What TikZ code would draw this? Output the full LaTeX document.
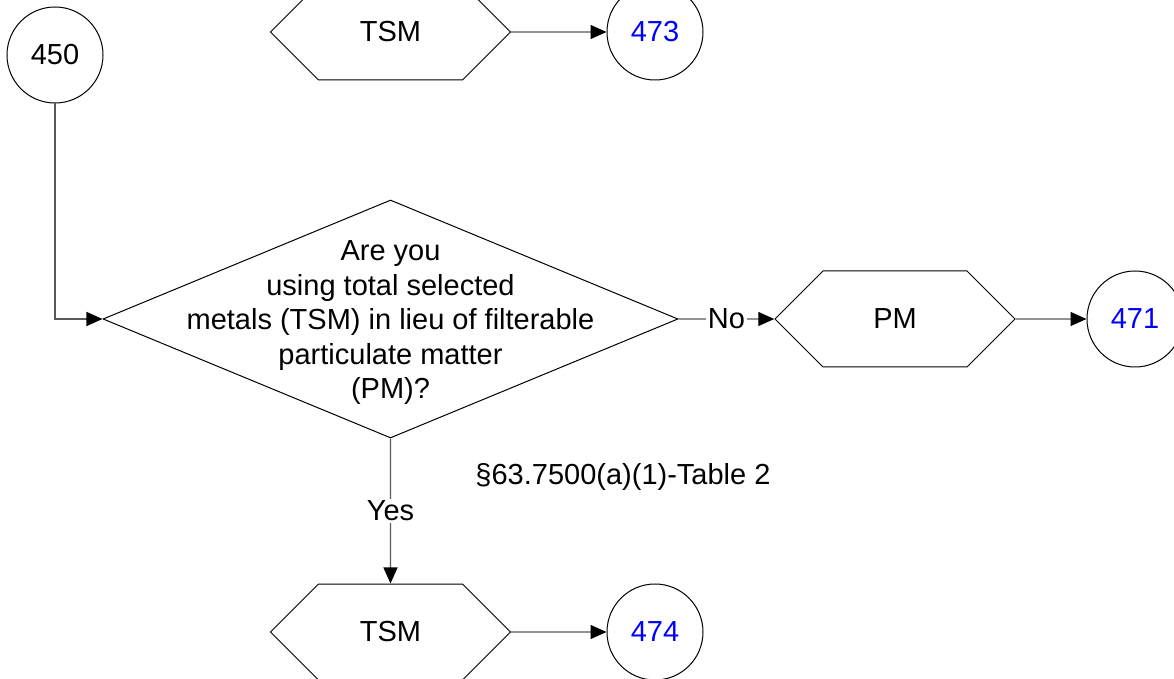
\documentclass[tikz,border=0pt]{standalone}
\usepackage{fontspec}
\setmainfont{Liberation Sans}
\usetikzlibrary{arrows.meta,shapes.geometric,shapes.symbols}
\definecolor{linkblue}{RGB}{0,0,255}
\tikzset{
  conn/.style={-{Triangle[length=8pt,width=7pt,color=black]}, draw=black!65, line width=0.6pt},
  refcircle/.style={circle, draw, line width=0.5pt, minimum size=48pt, inner sep=0pt},
  hexbox/.style={signal, signal to=east and west, signal pointer angle=90, draw,
    line width=0.5pt, minimum width=120pt, minimum height=48pt, inner sep=0pt},
  decision/.style={diamond, draw, line width=0.5pt, minimum width=287.5pt,
    minimum height=119pt, inner sep=0pt},
  lbl/.style={fill=white, inner sep=1pt},
}

\begin{document}
\begin{tikzpicture}[x=0.5pt, y=-0.5pt, font=\fontsize{14.5}{17.25}\selectfont]

  \useasboundingbox (0,0) rectangle (1174,679);

  % Entry point and top branch
  \node[refcircle] (n450) at (55,55) {450};
  \node[hexbox] (tsmtop) at (390.5,32) {TSM};
  \node[refcircle, text=linkblue] (n473) at (655,32) {473};
  \draw[conn] (tsmtop) -- (n473);

  % Decision
  \node[decision, label={[align=center, yshift=-2pt]center:{Are you\\using total selected\\metals (TSM) in lieu of filterable\\particulate matter\\(PM)?}}] (q) at (390.5,319) {};
  \draw[conn] (n450) |- (q);

  % No branch
  \node[hexbox] (pm) at (895,319) {PM};
  \node[refcircle, text=linkblue] (n471) at (1135,319) {471};
  \draw[conn] (q) -- node[lbl] {No} (pm);
  \draw[conn] (pm) -- (n471);

  % Yes branch
  \node[hexbox] (tsmbot) at (390.5,632) {TSM};
  \node[refcircle, text=linkblue] (n474) at (655,632) {474};
  \draw[conn] (q) -- node[lbl] {Yes} (tsmbot);
  \draw[conn] (tsmbot) -- (n474);
  \node (cite) at (623,477) {§63.7500(a)(1)-Table 2};

\end{tikzpicture}
\end{document}
